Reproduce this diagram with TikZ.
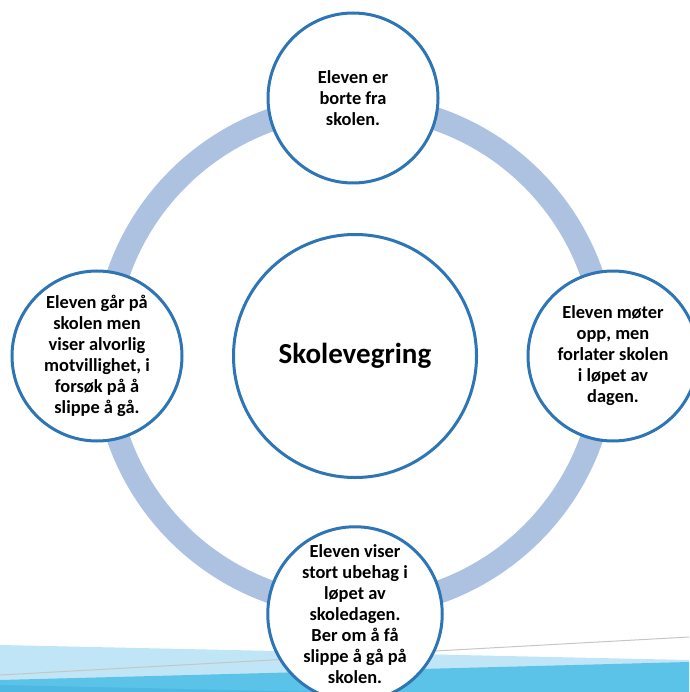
\documentclass[tikz,border=0pt]{standalone}
\usepackage{fontspec}
\setmainfont{Carlito}
\definecolor{ringblue}{HTML}{ADC2E1}
\definecolor{edgeblue}{HTML}{2E75B6}
\definecolor{wavelight}{HTML}{BFE5F6}
\definecolor{wavedark}{HTML}{5BC2E8}
\definecolor{wavedeep}{HTML}{4DB8E2}
\begin{document}
\begin{tikzpicture}[x=1pt,y=-1pt,
		stage/.style={circle,draw=edgeblue,line width=3pt,fill=white,inner sep=0pt,minimum size=170pt,align=center,font=\fontsize{18.4}{21}\selectfont\bfseries},
		hub/.style={stage,minimum size=243pt,font=\fontsize{29}{34}\selectfont\bfseries}]
		\useasboundingbox (0,0) rectangle (689,692);

		% waves at the bottom
		\fill[wavelight] (0,645) -- (689,660) -- (689,692) -- (0,692) -- cycle;
		\fill[wavedark] (0,680) -- (689,662) -- (689,692) -- (0,692) -- cycle;
		\fill[wavedeep] (0,685) -- (320,692) -- (0,692) -- cycle;
		\draw[gray!45, line width=1pt] (0,675) to (689,637);

		% ring
		\draw[ringblue, line width=23pt] (355,356) circle (250.5);

		\draw (355,356) node (hub) [hub] {Skolevegring};

		\draw (353,98) node (borte) [stage] {Eleven er\\borte fra\\skolen.};
		\draw (613,356) node (forlater) [stage] {Eleven møter\\opp, men\\forlater skolen\\i løpet av\\dagen.};
		\draw (355,614) node (ubehag) [stage] {Eleven viser\\stort ubehag i\\løpet av\\skoledagen.\\Ber om å få\\slippe å gå på\\skolen.};
		\draw (97,356) node (motvilje) [stage] {Eleven går på\\skolen men\\viser alvorlig\\motvillighet, i\\forsøk på å\\slippe å gå.};

	\end{tikzpicture}
\end{document}
